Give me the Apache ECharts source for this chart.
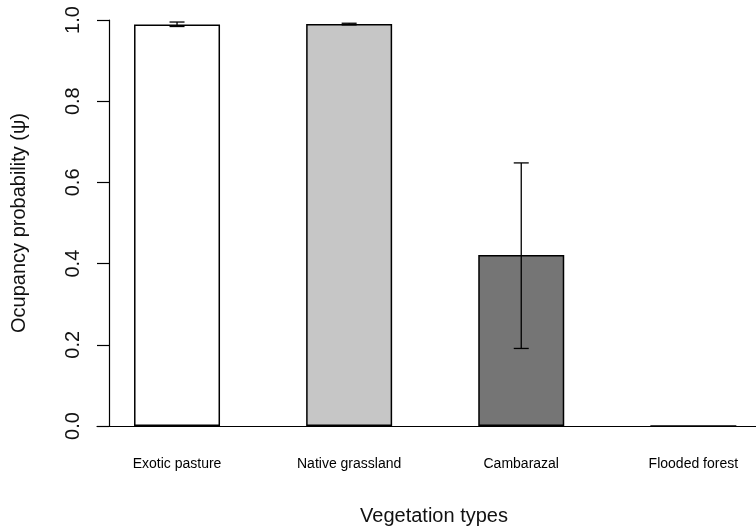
<!DOCTYPE html>
<html>
<head>
<meta charset="utf-8">
<script src="https://cdn.jsdelivr.net/npm/echarts@6/dist/echarts.min.js"></script>
<style>
  html, body { margin: 0; padding: 0; background: #fff; }
  #chart { width: 756px; height: 531px; }
</style>
</head>
<body>
<div id="chart"></div>
<script>
// Occupancy estimates (psi) per vegetation type, with confidence limits
const categories = ['Exotic pasture', 'Native grassland', 'Cambarazal', 'Flooded forest'];
const occupancy = [0.989, 0.990, 0.421, 0];
const lowerCI = [0.984, 0.988, 0.191, null];
const upperCI = [0.995, 0.992, 0.648, null];
const barColors = ['#ffffff', '#c6c6c6', '#757575', '#ffffff'];
const yTicks = [0, 0.2, 0.4, 0.6, 0.8, 1.0];

const FONT = 'Liberation Sans, Arial, sans-serif';

const chart = echarts.init(document.getElementById('chart'), null, { renderer: 'canvas' });

const barData = occupancy.map((v, i) => ({
  value: [i, v],
  itemStyle: { color: barColors[i] }
}));

const errData = categories.map((c, i) => [i, lowerCI[i], upperCI[i]])
  .filter(d => d[1] !== null);

chart.setOption({
  animation: false,
  backgroundColor: '#ffffff',
  grid: { left: 97, right: 0, top: 20, bottom: 104 },
  xAxis: {
    type: 'value',
    min: -0.465,
    max: 3.364,
    name: 'Vegetation types',
    nameLocation: 'middle',
    nameGap: 80,
    nameTextStyle: { fontFamily: FONT, fontSize: 20, color: '#111', padding: [0, 0, 0, 15] },
    axisLine: { show: true, onZero: false, lineStyle: { color: '#000', width: 1.2 } },
    axisTick: { show: false },
    splitLine: { show: false },
    axisLabel: {
      customValues: [0, 1, 2, 3],
      formatter: v => categories[Math.round(v)] || '',
      margin: 31,
      fontFamily: FONT,
      fontSize: 14,
      color: '#000'
    }
  },
  yAxis: {
    type: 'value',
    min: 0,
    max: 1,
    interval: 0.2,
    offset: -12,
    name: 'Ocupancy probability (\u03c8)',
    nameLocation: 'middle',
    nameRotate: 90,
    nameGap: 80,
    nameTextStyle: { fontFamily: FONT, fontSize: 20, color: '#111' },
    axisLine: { show: true, onZero: false, lineStyle: { color: '#000', width: 1.2 } },
    axisTick: { show: true, length: 12, inside: false, lineStyle: { color: '#000', width: 1.2 } },
    splitLine: { show: false },
    axisLabel: {
      rotate: 90,
      margin: 26,
      fontFamily: FONT,
      fontSize: 20,
      color: '#111',
      formatter: v => yTicks.some(t => Math.abs(t - v) < 1e-9) ? v.toFixed(1) : ''
    }
  },
  series: [
    {
      type: 'bar',
      barWidth: 86,
      data: barData,
      itemStyle: { borderColor: '#000', borderWidth: 1.5 },
      z: 2
    },
    {
      type: 'custom',
      z: 3,
      data: errData,
      renderItem: function (params, api) {
        const x = api.value(0);
        const lo = api.coord([x, api.value(1)]);
        const hi = api.coord([x, api.value(2)]);
        const hw = 7.5;
        const style = { stroke: '#000', lineWidth: 1.3, fill: null };
        return {
          type: 'group',
          children: [
            { type: 'line', shape: { x1: lo[0], y1: lo[1], x2: hi[0], y2: hi[1] }, style },
            { type: 'line', shape: { x1: lo[0] - hw, y1: lo[1], x2: lo[0] + hw, y2: lo[1] }, style },
            { type: 'line', shape: { x1: hi[0] - hw, y1: hi[1], x2: hi[0] + hw, y2: hi[1] }, style }
          ]
        };
      }
    }
  ]
});
</script>
</body>
</html>
